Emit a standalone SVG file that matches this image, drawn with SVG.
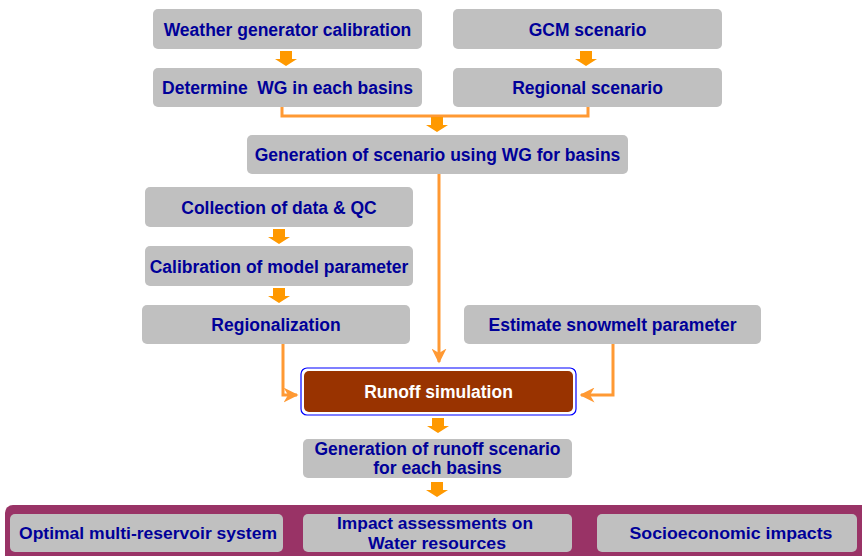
<svg xmlns="http://www.w3.org/2000/svg" width="862" height="556" viewBox="0 0 862 556">
<style>
.box{fill:#C0C0C0;}
.t{font-family:"Liberation Sans",Arial,sans-serif;font-weight:bold;font-size:17.5px;fill:#000099;text-anchor:middle;}
.tw{fill:#FFFFFF;}
.tb{font-size:17px;}
.ln{fill:none;stroke:#FF9933;stroke-width:3;}
.blk{fill:#FF9900;}
</style>
<defs>
<path id="barrow" d="M-6,0 H6 V8 H11 L0,15 L-11,8 H-6 Z"/>
<marker id="ah" viewBox="0 0 10 10" refX="9" refY="5" markerWidth="5" markerHeight="5" orient="auto" markerUnits="strokeWidth">
<path d="M0,0 L10,5 L0,10 L3,5 Z" fill="#FF9933"/>
</marker>
</defs>
<rect x="5" y="505" width="870" height="60" rx="8" fill="#993366"/>
<g id="connectors">
<polyline class="ln" points="282,107 282,116 588,116 588,107"/>
<line class="ln" x1="439" y1="174" x2="439" y2="362" marker-end="url(#ah)"/>
<polyline class="ln" points="283,344 283,395 297,395" marker-end="url(#ah)"/>
<polyline class="ln" points="613,344 613,395 581,395" marker-end="url(#ah)"/>
<use href="#barrow" class="blk" x="286" y="51"/>
<use href="#barrow" class="blk" x="586" y="51"/>
<use href="#barrow" class="blk" x="437" y="117"/>
<use href="#barrow" class="blk" x="279" y="229"/>
<use href="#barrow" class="blk" x="279" y="288"/>
<use href="#barrow" class="blk" x="438" y="418"/>
<use href="#barrow" class="blk" x="437" y="482"/>
</g>
<g id="n1"><rect class="box" x="153" y="9" width="269" height="40" rx="5"/><text class="t" x="287.5" y="35.5">Weather generator calibration</text></g>
<g id="n2"><rect class="box" x="153" y="68" width="269" height="39" rx="5"/><text class="t" x="287.5" y="94">Determine&#160; WG in each basins</text></g>
<g id="n3"><rect class="box" x="453" y="9" width="269" height="40" rx="5"/><text class="t" x="587.5" y="35.5">GCM scenario</text></g>
<g id="n4"><rect class="box" x="453" y="68" width="269" height="39" rx="5"/><text class="t" x="587.5" y="94">Regional scenario</text></g>
<g id="n5"><rect class="box" x="247" y="135" width="381" height="39" rx="5"/><text class="t" x="437.5" y="161">Generation of scenario using WG for basins</text></g>
<g id="n6"><rect class="box" x="145" y="187" width="268" height="40" rx="5"/><text class="t" x="279" y="213.5">Collection of data &amp; QC</text></g>
<g id="n7"><rect class="box" x="145" y="246" width="268" height="40" rx="5"/><text class="t" x="279" y="272.5">Calibration of model parameter</text></g>
<g id="n8"><rect class="box" x="142" y="305" width="268" height="39" rx="5"/><text class="t" x="276" y="331">Regionalization</text></g>
<g id="n9"><rect class="box" x="464" y="305" width="297" height="39" rx="5"/><text class="t" x="612.5" y="331">Estimate snowmelt parameter</text></g>
<g id="n10"><rect x="301" y="368" width="275" height="47" rx="6" fill="#FFFFFF" stroke="#0000FF" stroke-width="1.2"/><rect x="304" y="371" width="269" height="41" rx="5" fill="#993300"/><text class="t tw" x="438.5" y="398">Runoff simulation</text></g>
<g id="n11"><rect class="box" x="303" y="439" width="269" height="39" rx="5"/><text class="t" x="437.5" y="455">Generation of runoff scenario</text><text class="t" x="437.5" y="474">for each basins</text></g>
<g id="n12"><rect class="box" x="10" y="514" width="273" height="38" rx="5"/><text class="t tb" x="148" y="539" textLength="258" lengthAdjust="spacingAndGlyphs">Optimal multi-reservoir system</text></g>
<g id="n13"><rect class="box" x="303" y="514" width="269" height="38" rx="5"/><text class="t tb" x="435" y="529" textLength="196" lengthAdjust="spacingAndGlyphs">Impact assessments on</text><text class="t tb" x="437" y="549" textLength="138" lengthAdjust="spacingAndGlyphs">Water resources</text></g>
<g id="n14"><rect class="box" x="597" y="514" width="260" height="38" rx="5"/><text class="t tb" x="731" y="539" textLength="203" lengthAdjust="spacingAndGlyphs">Socioeconomic impacts</text></g>
</svg>
